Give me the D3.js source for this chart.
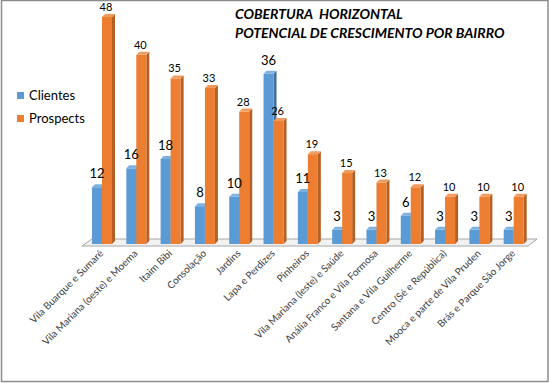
<!DOCTYPE html>
<html>
<head>
<meta charset="utf-8">
<script src="https://cdn.jsdelivr.net/npm/d3@7"></script>
<style>
  body { margin: 0; background: #fff; }
  svg { font-family: Lato, "Open Sans", sans-serif; }
</style>
</head>
<body>
<div class="chart"></div>
<script>
const categories = ["Vila Buarque e Sumaré", "Vila Mariana (oeste) e Moema", "Itaim Bibi", "Consolação",
  "Jardins", "Lapa e Perdizes", "Pinheiros", "Vila Mariana (leste) e Saúde", "Anália Franco e Vila Formosa",
  "Santana e Vila Guilherme", "Centro (Sé e República)", "Mooca e parte de Vila Pruden", "Brás e Parque São Jorge"];
const series = ["Clientes", "Prospects"];
const clientes = [12, 16, 18, 8, 10, 36, 11, 3, 3, 6, 3, 3, 3];
const prospects = [48, 40, 35, 33, 28, 26, 19, 15, 13, 12, 10, 10, 10];
const titleLines = ["COBERTURA  HORIZONTAL", "POTENCIAL DE CRESCIMENTO POR BAIRRO"];

const W = 549, H = 383;
const colors = {Clientes: "#5B9BD5", Prospects: "#ED7D31"};
const sides = {Clientes: "#41719C", Prospects: "#B45F24"};
const tops = {Clientes: "#7EB1E0", Prospects: "#F29B5E"};
const dx = 3, dy = -3;

const svg = d3.select(".chart").append("svg")
    .attr("width", W).attr("height", H);

// outer border
svg.append("rect")
    .attr("x", 1.5).attr("y", 0.5).attr("width", W - 2.5).attr("height", H - 2)
    .attr("fill", "#fff").attr("stroke", "#8c8c8c").attr("stroke-width", 1.5);

const x0 = d3.scaleBand().domain(categories).range([86, 532]);
const x1 = d3.scaleBand().domain(series).range([6, 26]);
const y = d3.scaleLinear().domain([0, 48]).range([244, 17]);
const base = y(0);

// floor
const fl = 82, fr = 528;
svg.append("path")
    .attr("d", `M${fl},${base + 2}L${fr},${base + 2}L${fr + 9},${base - 5}L${fl + 10},${base - 5}Z`)
    .attr("fill", "#f2f2f2").attr("stroke", "#a6a6a6").attr("stroke-width", 1);

const data = categories.map((c, i) => ({cat: c, Clientes: clientes[i], Prospects: prospects[i]}));

const groups = svg.selectAll(".grp").data(data).enter().append("g")
    .attr("class", "grp")
    .attr("transform", d => `translate(${x0(d.cat)},0)`);

series.forEach(s => {
  const bw = x1.bandwidth();
  const bx = x1(s);
  // side face
  groups.append("path")
      .attr("fill", sides[s])
      .attr("d", d => {
        const t = y(d[s]);
        return `M${bx + bw},${t}L${bx + bw + dx},${t + dy}L${bx + bw + dx},${base + dy}L${bx + bw},${base}Z`;
      });
  // front face
  groups.append("rect")
      .attr("x", bx).attr("width", bw)
      .attr("y", d => y(d[s]))
      .attr("height", d => base - y(d[s]))
      .attr("fill", colors[s]);
  // top face
  groups.append("path")
      .attr("fill", tops[s])
      .attr("d", d => {
        const t = y(d[s]);
        return `M${bx},${t}L${bx + bw},${t}L${bx + bw + dx},${t + dy}L${bx + dx},${t + dy}Z`;
      });
});

// value labels
groups.append("text")
    .attr("x", x1("Clientes") + x1.bandwidth() / 2)
    .attr("y", d => y(d.Clientes) - 9)
    .attr("text-anchor", "middle")
    .style("font-size", "13px").attr("fill", "#000")
    .text(d => d.Clientes);
groups.append("text")
    .attr("x", x1("Prospects") + x1.bandwidth() / 2 - 1)
    .attr("y", d => y(d.Prospects) - 6)
    .attr("text-anchor", "middle")
    .style("font-size", "11px").attr("fill", "#000")
    .text(d => d.Prospects);

// category labels
svg.selectAll(".cat").data(categories).enter().append("text")
    .attr("class", "cat")
    .attr("transform", d => `translate(${x0(d) + 18},${base + 10}) rotate(-45)`)
    .attr("text-anchor", "end")
    .style("font-size", "10px").attr("fill", "#404040")
    .text(d => d);

// legend
const leg = svg.selectAll(".leg").data(series).enter().append("g")
    .attr("class", "leg")
    .attr("transform", (d, i) => `translate(17,${92 + i * 23})`);
leg.append("rect").attr("width", 7).attr("height", 7).attr("fill", d => colors[d]);
leg.append("text").attr("x", 12).attr("y", 8)
    .style("font-size", "13px").attr("fill", "#000").text(d => d);

// title
svg.selectAll(".title").data(titleLines).enter().append("text")
    .attr("x", 235).attr("y", (d, i) => 19 + i * 19)
    .style("white-space", "pre")
    .style("font-size", "14px").style("font-weight", "bold").style("font-style", "italic")
    .attr("fill", "#000")
    .text(d => d);
</script>
</body>
</html>
